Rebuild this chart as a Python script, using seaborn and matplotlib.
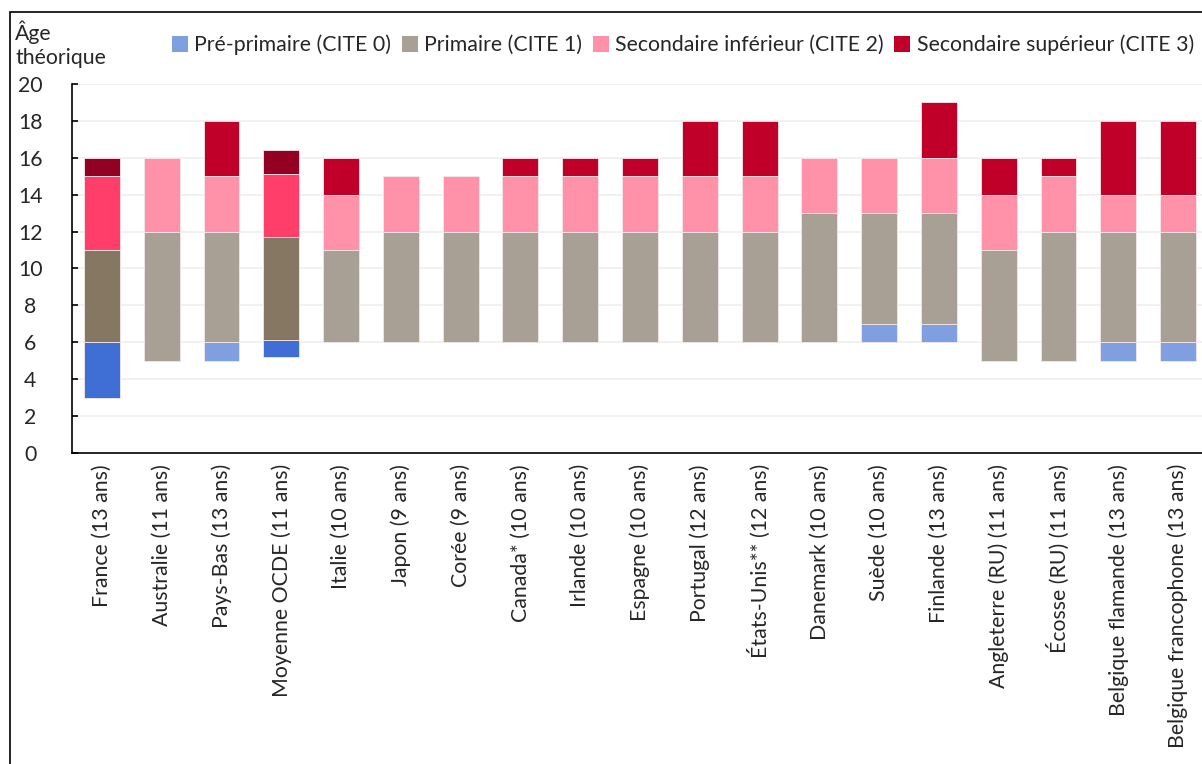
import matplotlib
matplotlib.use("Agg")
import matplotlib.pyplot as plt
from matplotlib.patches import Patch, Rectangle
import seaborn as sns
import pandas as pd

countries = ["France (13 ans)", "Australie (11 ans)", "Pays-Bas (13 ans)", "Moyenne OCDE (11 ans)",
             "Italie (10 ans)", "Japon (9 ans)", "Corée (9 ans)", "Canada* (10 ans)", "Irlande (10 ans)",
             "Espagne (10 ans)", "Portugal (12 ans)", "États-Unis** (12 ans)", "Danemark (10 ans)",
             "Suède (10 ans)", "Finlande (13 ans)", "Angleterre (RU) (11 ans)", "Écosse (RU) (11 ans)",
             "Belgique flamande (13 ans)", "Belgique francophone (13 ans)"]
# age at start of each level (pre-primary, primary, lower sec., upper sec.) and end age
start_pre = [3, 5, 5, 5.2, 6, 6, 6, 6, 6, 6, 6, 6, 6, 6, 6, 5, 5, 5, 5]
start_prim = [6, 5, 6, 6.1, 6, 6, 6, 6, 6, 6, 6, 6, 6, 7, 7, 5, 5, 6, 6]
start_low = [11, 12, 12, 11.7, 11, 12, 12, 12, 12, 12, 12, 12, 13, 13, 13, 11, 12, 12, 12]
start_up = [15, 16, 15, 15.1, 14, 15, 15, 15, 15, 15, 15, 15, 16, 16, 16, 14, 15, 14, 14]
end_age = [16, 16, 18, 16.4, 16, 15, 15, 16, 16, 16, 18, 18, 16, 16, 19, 16, 16, 18, 18]

levels = ["Pré-primaire (CITE 0)", "Primaire (CITE 1)", "Secondaire inférieur (CITE 2)",
          "Secondaire supérieur (CITE 3)"]
colors = ["#7F9FE1", "#A89F95", "#FF91A8", "#C00028"]
dark_colors = ["#3F6ED5", "#857762", "#FF3F69", "#940021"]
highlight = ["France (13 ans)", "Moyenne OCDE (11 ans)"]

bounds = [start_pre, start_prim, start_low, start_up, end_age]

sns.set_theme(style="white")
plt.rcParams["font.family"] = ["Lato", "DejaVu Sans"]
FS = 15.3

fig = plt.figure(figsize=(12.02, 7.64), dpi=100)
ax = fig.add_axes([72 / 1202, 1 - 453 / 764, (1208 - 72) / 1202, (453 - 84) / 764])

for k in range(4):
    lo = bounds[k]
    hi = bounds[k + 1]
    df = pd.DataFrame({"pays": countries, "haut": hi})
    n_before = len(ax.patches)
    sns.barplot(data=df, x="pays", y="haut", order=countries, color=colors[k],
                width=0.6, errorbar=None, ax=ax, saturation=1,
                edgecolor="#F4E8EA", linewidth=0.6, zorder=3)
    new = ax.patches[n_before:]
    for i, p in enumerate(new):
        p.set_y(lo[i])
        p.set_height(hi[i] - lo[i])
        if hi[i] - lo[i] <= 0:
            p.set_visible(False)
        if countries[i] in highlight:
            p.set_facecolor(dark_colors[k])

ax.set_xlim(-0.5, 18.5)
ax.set_ylim(0, 20)
ax.set_yticks(range(0, 21, 2))
ax.yaxis.grid(True, color="#EFEFEF", linewidth=1.2, zorder=0)
ax.set_axisbelow(True)
for s in ["top", "right"]:
    ax.spines[s].set_visible(False)
ax.spines["left"].set_color("black")
ax.spines["bottom"].set_color("black")
ax.spines["left"].set_linewidth(1.2)
ax.spines["bottom"].set_linewidth(1.2)
ax.tick_params(axis="y", direction="in", length=4, width=1.2, color="black",
               labelsize=FS, pad=30, left=True)
ax.tick_params(axis="x", length=0, labelsize=FS, pad=8, rotation=90)
for lab in ax.get_yticklabels():
    lab.set_horizontalalignment("center")
ax.set_xlabel("")
ax.set_ylabel("")

handles = [Patch(facecolor=c, edgecolor="none") for c in colors]
fig.legend(handles, levels, loc="center", bbox_to_anchor=(683 / 1202, 1 - 45 / 764), ncol=4,
           frameon=False, fontsize=FS, handlelength=0.75, handleheight=0.75,
           handletextpad=0.3, columnspacing=0.5)
fig.text(15 / 1202, 1 - 20 / 764, "Âge\nthéorique", ha="left", va="top", fontsize=FS,
         linespacing=1.25)

fig.patches.append(Rectangle((10 / 1202, -0.05), 1.2, 1.05 - 12 / 764, transform=fig.transFigure,
                             fill=False, edgecolor="black", linewidth=1.2))

fig.savefig("out.png", dpi=100)
